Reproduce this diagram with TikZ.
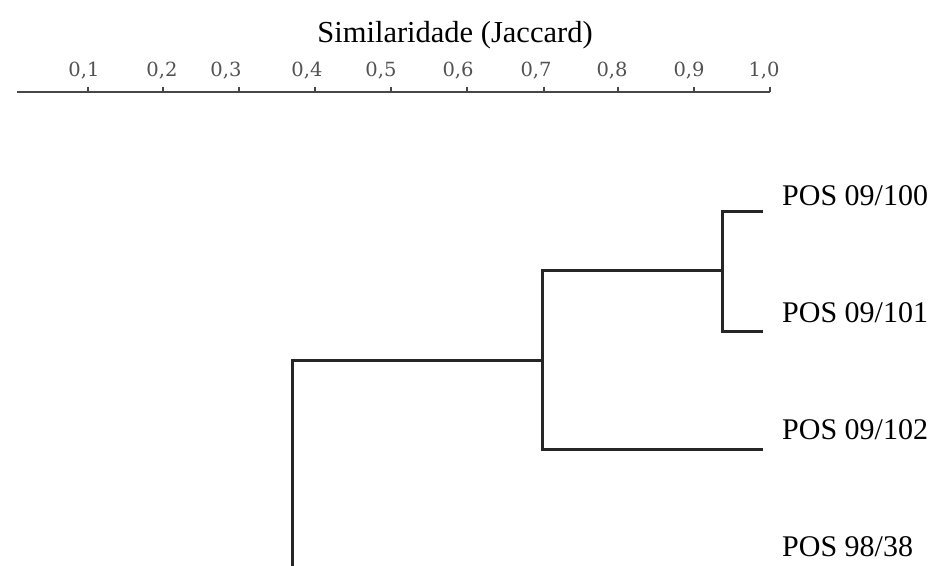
\documentclass[tikz,border=0pt]{standalone}
\usepackage{fontspec}
\setmainfont{Liberation Serif}
\newfontfamily\tickfont{DejaVu Serif}
\begin{document}
\begin{tikzpicture}[x=1pt,y=-1pt,
  branch/.style={draw=black!85, line width=3pt, line join=miter},
  axisline/.style={draw=black!72, line width=1.6pt},
  ticklabel/.style={anchor=base, inner sep=0pt, text=black!68,
    font=\tickfont\fontsize{19.5}{22}\selectfont},
  leaflabel/.style={anchor=base west, inner sep=0pt,
    font=\fontsize{30}{36}\selectfont},
  titlelabel/.style={anchor=base, inner sep=0pt,
    font=\fontsize{30.5}{36}\selectfont}]
\useasboundingbox (0,0) rectangle (936,565);

% similarity scale
\node[titlelabel] (title) at (455,42) {Similaridade (Jaccard)};
\coordinate (axL) at (17,92);
\coordinate (axR) at (770,92);
\draw[axisline] (axL) -- (axR);
\foreach \tx/\lx/\lab in {88/84/{0,1}, 163/162/{0,2}, 239/226/{0,3},
    315/307/{0,4}, 391/381/{0,5}, 467/458/{0,6}, 544/536/{0,7},
    618/612/{0,8}, 694/689/{0,9}, 770/764/{1,0}} {
  \draw[axisline, line width=1.4pt] (\tx,86.5) -- (\tx,92);
  \node[ticklabel] at (\lx,76) {\lab};
}

% leaves
\node[leaflabel] (p100) at (782,205) {POS 09/100};
\node[leaflabel] (p101) at (782,322) {POS 09/101};
\node[leaflabel] (p102) at (782,439) {POS 09/102};
\node[leaflabel] (p38)  at (782,556) {POS 98/38};

\coordinate (e100) at (763,211);
\coordinate (e101) at (763,331);
\coordinate (e102) at (763,449);

% cluster joins
\coordinate (nA) at (722,270);
\coordinate (nB) at (542,360);
\coordinate (nC) at (292,360);
\coordinate (root) at (292,580);

\draw[branch] (e100) -- (e100 -| nA) -- (e101 -| nA) -- (e101);
\draw[branch] (nA) -- (nA -| nB) -- (e102 -| nB) -- (e102);
\draw[branch] (nB) -- (nC) -- (root);
\end{tikzpicture}
\end{document}
